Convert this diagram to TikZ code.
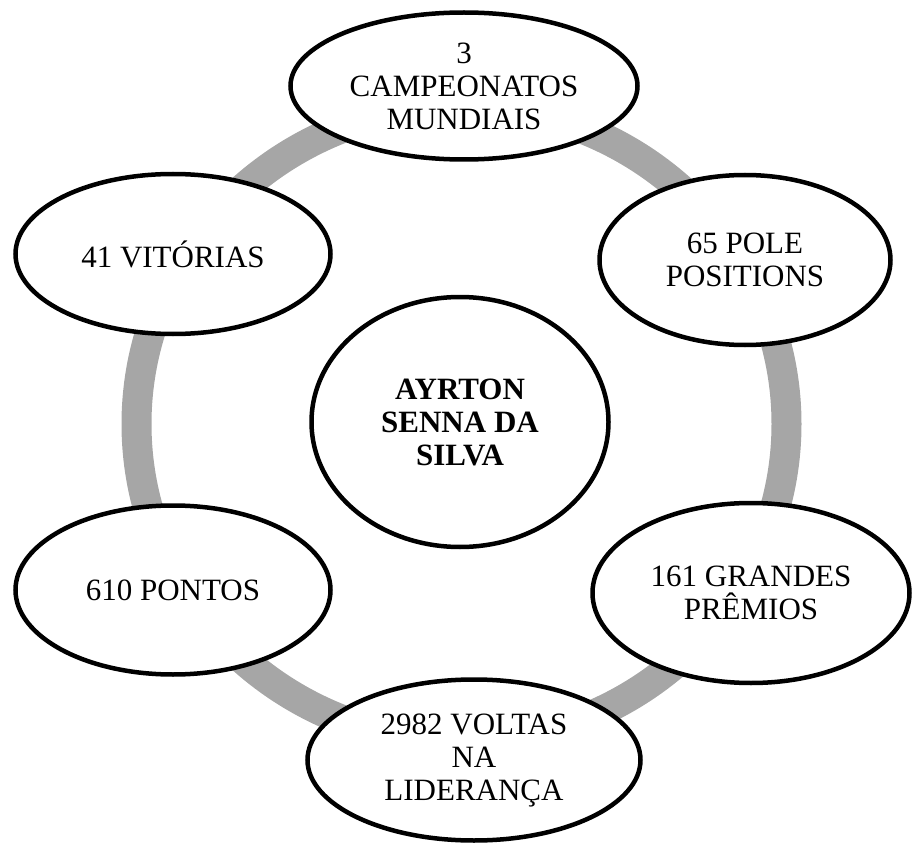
\documentclass[tikz,border=0pt]{standalone}
\usepackage{fontspec}
\setmainfont{Liberation Serif}
\usetikzlibrary{shapes.geometric}
\definecolor{ringgray}{RGB}{166,166,166}
\begin{document}
\begin{tikzpicture}[x=1pt,y=-1pt,
  bubble/.style={ellipse, draw=black, line width=4.5pt, fill=white, inner sep=0pt, align=center, font=\fontsize{31}{33}\selectfont},
  ringpath/.style={draw=ringgray, line width=30pt}]
\useasboundingbox (0,0) rectangle (914,848);
\coordinate (c) at (461.5,424);
\draw[ringpath] (c) ellipse [x radius=325pt, y radius=318pt];
\node[bubble, minimum width=347pt, minimum height=147pt] (top) at (464,86) {3\\CAMPEONATOS\\MUNDIAIS};
\node[bubble, minimum width=291pt, minimum height=170pt] (pole) at (745,260) {65 POLE\\POSITIONS};
\node[bubble, minimum width=315pt, minimum height=160pt] (vit) at (173,254) {41 VITÓRIAS};
\node[bubble, minimum width=317pt, minimum height=180pt] (gp) at (751,593) {161 GRANDES\\PRÊMIOS};
\node[bubble, minimum width=315pt, minimum height=169pt] (pts) at (173,590) {610 PONTOS};
\node[bubble, minimum width=333pt, minimum height=161pt] (lid) at (474,760) {2982 VOLTAS\\NA\\LIDERANÇA};
\node[bubble, minimum width=297pt, minimum height=250pt, font=\fontsize{31}{33}\selectfont\bfseries] (ctr) at (460,422) {AYRTON\\SENNA DA\\SILVA};
\end{tikzpicture}
\end{document}
